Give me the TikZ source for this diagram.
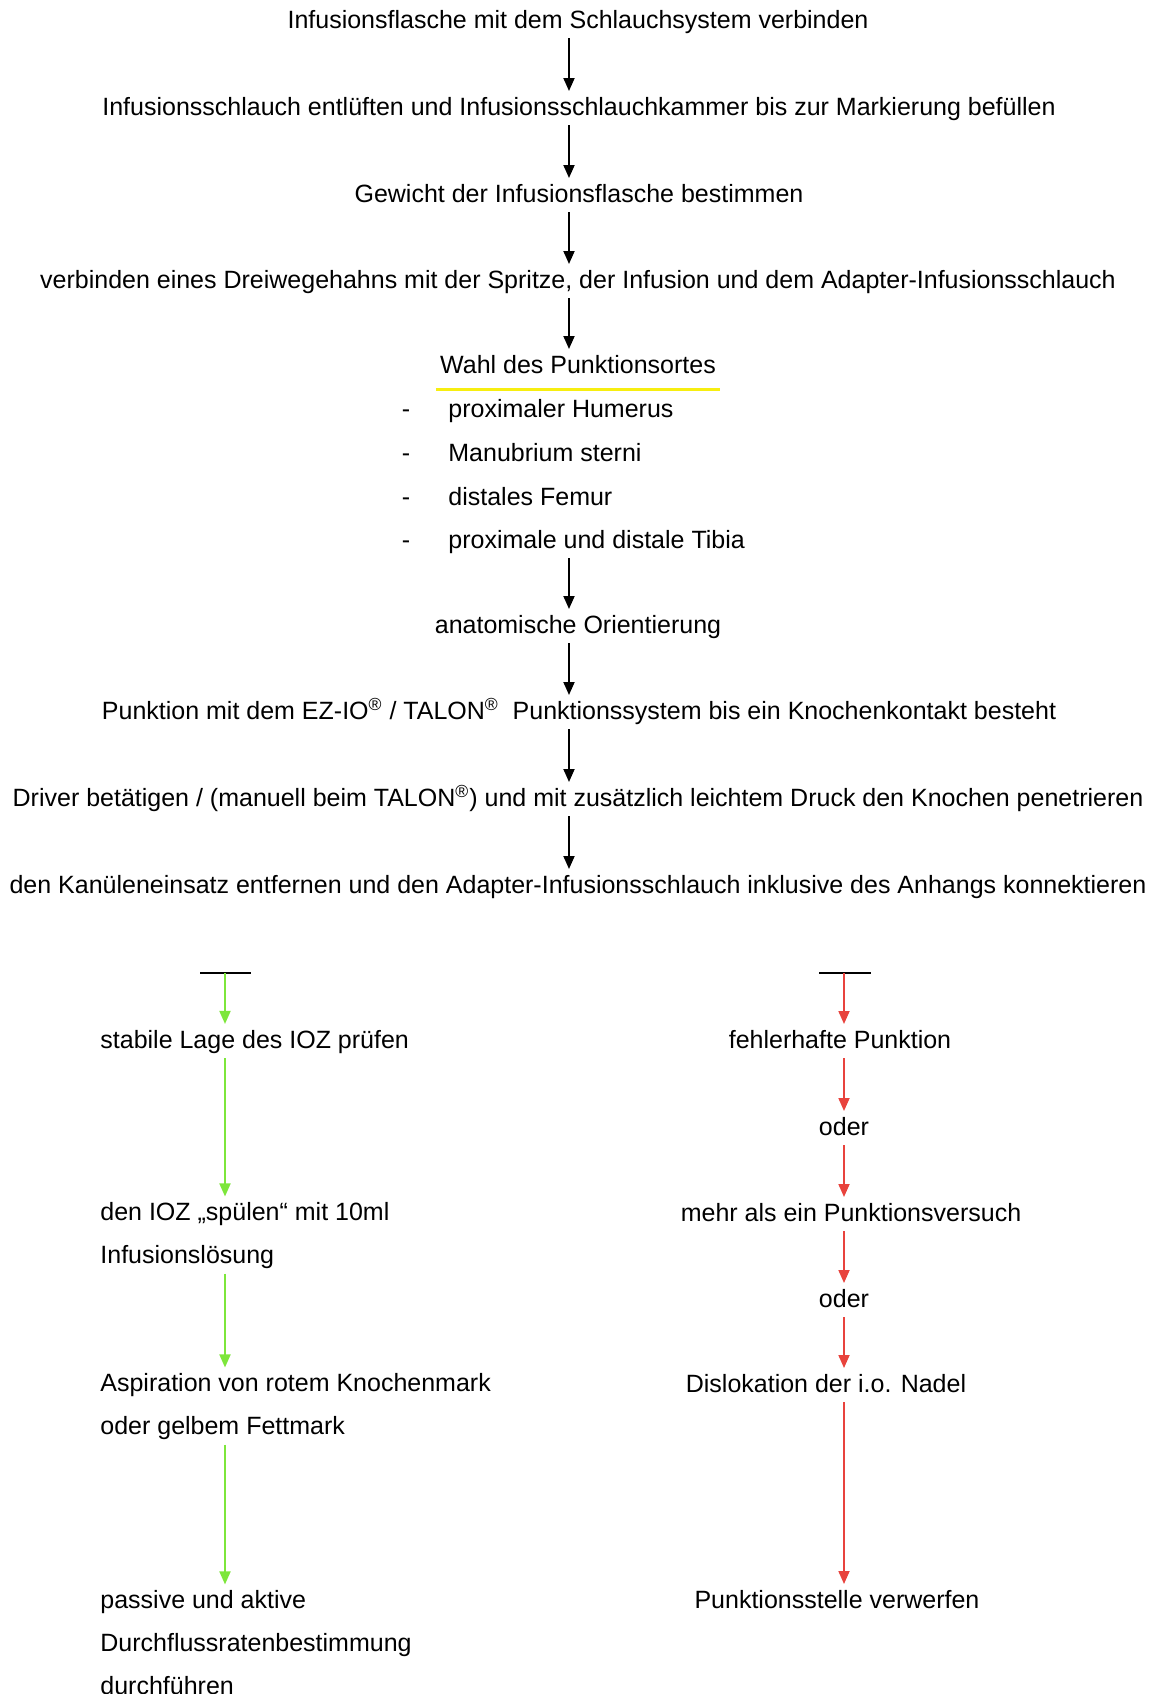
\documentclass[tikz,border=0pt]{standalone}
\usepackage{fontspec}
\setmainfont{Liberation Sans}
\usepackage{tikz}
\usetikzlibrary{arrows.meta}
\definecolor{arrow_green}{HTML}{7DE63B}
\definecolor{arrow_red}{HTML}{E8433D}
\definecolor{mark_yellow}{HTML}{F7EE10}
\tikzstyle{node_step} = [inner sep=2pt, text height=9pt, text depth=2.6pt, font=\fontsize{12.5}{21.5}\selectfont]
\tikzstyle{node_item} = [node_step, anchor=west]
\tikzstyle{node_left} = [anchor=west, align=left, inner sep=2pt, font=\fontsize{12.5}{21.5}\selectfont]
\tikzstyle{edge_black} = [-{Triangle[length=6.5pt,width=5.5pt]}, line width=0.9pt, shorten >=1pt]
\tikzstyle{edge_green} = [edge_black, color=arrow_green]
\tikzstyle{edge_red} = [edge_black, color=arrow_red]
\tikzstyle{edge_bar} = [line width=1.4pt]

\begin{document}
\begin{tikzpicture}[x=0.5pt, y=-0.5pt]
\useasboundingbox (0,0) rectangle (1159,1694);
\coordinate (mid) at (569,0);
\coordinate (gx) at (225,0);
\coordinate (rx) at (844,0);

% main steps
\node (A) at (578,22) [node_step] {Infusionsflasche mit dem Schlauchsystem verbinden};
\node (B) at (579,109) [node_step] {Infusionsschlauch entlüften und Infusionsschlauchkammer bis zur Markierung befüllen};
\node (C) at (579,196) [node_step] {Gewicht der Infusionsflasche bestimmen};
\node (D) at (578,282) [node_step] {verbinden eines Dreiwegehahns mit der Spritze, der Infusion und dem Adapter-Infusionsschlauch};
\node (E) at (578,367) [node_step] {Wahl des Punktionsortes};
\node (E1d) at (406,411) [node_step] {-};
\node (E2d) at (406,455) [node_step] {-};
\node (E3d) at (406,499) [node_step] {-};
\node (E4d) at (406,542) [node_step] {-};
\node (E1) at (444,411) [node_item] {proximaler Humerus};
\node (E2) at (444,455) [node_item] {Manubrium sterni};
\node (E3) at (444,499) [node_item] {distales Femur};
\node (E4) at (444,542) [node_item] {proximale und distale Tibia};
\node (F) at (578,627) [node_step] {anatomische Orientierung};
\node (G) at (579,713) [node_step] {Punktion mit dem EZ-IO\textsuperscript{®} / TALON\textsuperscript{®}\ \ Punktionssystem bis ein Knochenkontakt besteht};
\node (H) at (578,800) [node_step] {Driver betätigen / (manuell beim TALON\textsuperscript{®}) und mit zusätzlich leichtem Druck den Knochen penetrieren};
\node (I) at (578,887) [node_step] {den Kanüleneinsatz entfernen und den Adapter-Infusionsschlauch inklusive des Anhangs konnektieren};

\draw[mark_yellow, line width=1.5pt] ([yshift=-3pt]E.south west) -- ([yshift=-3pt]E.south east);

\draw[edge_black] (A.south -| mid)--(B.north -| mid);
\draw[edge_black] (B.south -| mid)--(C.north -| mid);
\draw[edge_black] (C.south -| mid)--(D.north -| mid);
\draw[edge_black] (D.south -| mid)--(E.north -| mid);
\draw[edge_black] (E4.south -| mid)--(F.north -| mid);
\draw[edge_black] (F.south -| mid)--(G.north -| mid);
\draw[edge_black] (G.south -| mid)--(H.north -| mid);
\draw[edge_black] (H.south -| mid)--(I.north -| mid);

% left branch
\coordinate (gl) at (200,973);
\coordinate (gr) at (251,973);
\coordinate (gt) at (225,973);
\draw[edge_bar] (gl)--(gr);
\node (L1) at (96,1042) [node_left] {stabile Lage des IOZ prüfen};
\node (L2) at (96,1236) [node_left] {den IOZ „spülen“ mit 10ml\\Infusionslösung};
\node (L3) at (96,1407) [node_left] {Aspiration von rotem Knochenmark\\oder gelbem Fettmark};
\node (L4) at (96,1643) [node_left] {passive und aktive\\Durchflussratenbestimmung\\durchführen};
\draw[edge_green] (gt)--(L1.north -| gx);
\draw[edge_green] (L1.south -| gx)--(L2.north -| gx);
\draw[edge_green] (L2.south -| gx)--(L3.north -| gx);
\draw[edge_green] (L3.south -| gx)--(L4.north -| gx);

% right branch
\coordinate (rl) at (819,973);
\coordinate (rr) at (871,973);
\coordinate (rt) at (844,973);
\draw[edge_bar] (rl)--(rr);
\node (R1) at (840,1042) [node_step] {fehlerhafte Punktion};
\node (R2) at (844,1129) [node_step] {oder};
\node (R3) at (851,1215) [node_step] {mehr als ein Punktionsversuch};
\node (R4) at (844,1301) [node_step] {oder};
\node (R5) at (826,1386) [node_step] {Dislokation der i.o. Nadel};
\node (R6) at (837,1602) [node_step] {Punktionsstelle verwerfen};
\draw[edge_red] (rt)--(R1.north -| rx);
\draw[edge_red] (R1.south -| rx)--(R2.north -| rx);
\draw[edge_red] (R2.south -| rx)--(R3.north -| rx);
\draw[edge_red] (R3.south -| rx)--(R4.north -| rx);
\draw[edge_red] (R4.south -| rx)--(R5.north -| rx);
\draw[edge_red] (R5.south -| rx)--(R6.north -| rx);
\end{tikzpicture}
\end{document}
